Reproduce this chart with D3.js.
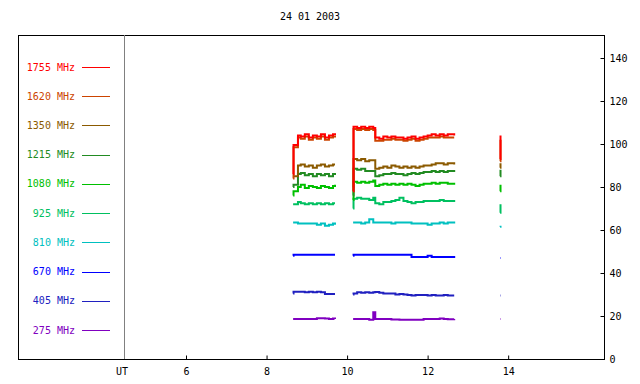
<!DOCTYPE html>
<html>
<head>
<meta charset="utf-8">
<script src="https://cdn.jsdelivr.net/npm/d3@7"></script>
<style>
  body { margin: 0; background: #fff; }
  text { font-family: "DejaVu Sans Mono", monospace; font-size: 10px; }
</style>
</head>
<body>
<div id="chart"></div>
<script>
var title = "24 01 2003";
var channels = ["1755 MHz", "1620 MHz", "1350 MHz", "1215 MHz", "1080 MHz", "925 MHz", "810 MHz", "670 MHz", "405 MHz", "275 MHz"];
var colors = ["#ff0000", "#cc4400", "#8b5a00", "#228b22", "#00c000", "#00c060", "#00c0c0", "#0000ff", "#2020c0", "#8000c0"];
var xTicks = [6, 8, 10, 12, 14];
var yTicks = [0, 20, 40, 60, 80, 100, 120, 140];

// UT hours, null = gap between observation runs
var times = [8.66, 8.67, 8.78, 8.85, 8.95, 9.05, 9.15, 9.25, 9.35, 9.45, 9.55, 9.65, 9.70, null,
  10.15, 10.16, 10.25, 10.35, 10.45, 10.55, 10.65, 10.70, 10.80, 10.90, 11.00, 11.10, 11.20, 11.30, 11.40,
  11.50, 11.60, 11.70, 11.80, 11.90, 12.00, 12.10, 12.20, 12.30, 12.40, 12.50, 12.66, null,
  13.80, 13.81];

var f1755 = [86, 99.5, 104, 103.5, 104.5, 103, 104, 103.5, 104.5, 103, 104, 104.5, 105, null,
  78, 108, 107.5, 108, 107.5, 108, 107.5, 103, 102.5, 103.5, 103, 103.5, 103, 103, 102.5,
  103, 103.5, 102.5, 103, 103.5, 104, 104.5, 104, 104.5, 104, 104.5, 104, null,
  93, 104];
var f1620 = [84, 98.5, 103, 102.5, 103.5, 102, 103, 102.5, 103.5, 102, 103, 103.5, 104, null,
  78, 107, 106.5, 107, 106.5, 107, 106.5, 101.5, 101.5, 102, 102, 102.5, 102, 102, 101.5,
  102, 102.5, 101.5, 102, 102.5, 103, 103, 103, 103.5, 103, 103, 103, null,
  92, 102];
var f1350 = [85, 85, 90, 90.5, 89.5, 90, 89, 90, 90.5, 89.5, 90, 90.5, 90.5, null,
  80, 93, 92.5, 93, 92, 92.5, 92.5, 88.5, 89, 89.5, 89, 90, 89.5, 89, 89.5,
  89, 89.5, 89, 89.5, 90, 90, 90.5, 91, 91, 90.5, 91, 90.5, null,
  89, 91];
var f1215 = [80, 81, 86, 86.5, 85.5, 86, 85, 86, 85.5, 86, 85, 86, 86.5, null,
  76, 88.5, 88, 88.5, 87.5, 87.5, 87.5, 85, 85.5, 86, 86, 86.5, 86, 86, 85.5,
  86, 86.5, 86, 86.5, 87, 87, 87.5, 87, 87.5, 87, 87.5, 87, null,
  85, 88];
var f1080 = [76, 78, 80, 81, 79.5, 80.5, 80, 79.5, 80.5, 80, 79.5, 80.5, 81, null,
  74, 82.5, 82, 82.5, 82, 82.5, 83, 80.5, 81, 81.5, 81, 81.5, 81, 81.5, 81,
  81.5, 81, 80.5, 81, 81.5, 81.5, 82, 81.5, 82, 82, 81.5, 82, null,
  78, 81];
var f925 = [72, 72, 73, 72.5, 72, 72.5, 72, 72.5, 72, 72.5, 72, 72.5, 72.5, null,
  70, 74.5, 75, 74.5, 74.5, 74, 75, 72.5, 72, 73, 73, 73.5, 74, 75, 73.5,
  73, 72.5, 73, 73, 73.5, 73.5, 73.5, 73.5, 74, 73.5, 73.5, 73, null,
  68, 72];
var f810 = [63.5, 63.5, 63, 63, 63, 63, 63, 62.5, 63, 62, 62.5, 63, 62.5, null,
  63.5, 63.5, 63.5, 63, 63.5, 65, 63.5, 63.5, 63.5, 63.5, 63.5, 63, 63.5, 63.5, 63.5,
  63.5, 63, 63, 63, 63, 62.5, 63, 63, 63.5, 63, 63.5, 63, null,
  61.5, 62];
var f670 = [48, 48.5, 48.5, 48.5, 48.5, 48.5, 48.5, 48.5, 48.5, 48.5, 48.5, 48.5, 48.5, null,
  48, 48.5, 48.5, 48.5, 48.5, 48.5, 48.5, 48.5, 48.5, 48.5, 48.5, 48.5, 48.5, 48.5, 48.5,
  48.5, 47.5, 47.5, 47.5, 47.5, 48, 47.5, 47.5, 47.5, 47.5, 47.5, 47, null,
  47, 47];
var f405 = [30.5, 31.3, 31.3, 31.3, 31, 31.3, 31, 31.3, 31, 30.2, 30.2, 30.2, 30.2, null,
  30, 30.5, 31, 30.8, 31, 30.8, 31, 31.2, 30.8, 30.5, 30.5, 30.5, 30, 30.2, 30,
  29.8, 29.5, 29.8, 29.8, 29.8, 29.5, 29.8, 29.5, 29.5, 29.8, 29.5, 29.5, null,
  29.5, 29.5];
var f275 = [18.6, 18.6, 18.6, 18.6, 18.6, 18.6, 18.6, 19, 19, 18.8, 18.6, 18.8, 18.6, null,
  18.6, 18.6, 18.6, 18.6, 18.6, 18.3, 21.8, 18.6, 18.6, 18.6, 18.6, 18.4, 18.4, 18.3, 18.3,
  18.3, 18.3, 18.3, 18.3, 18.6, 18.6, 18.6, 18.6, 18.8, 18.6, 18.5, 18.6, null,
  18.6, 18.6];

var series = [f1755, f1620, f1350, f1215, f1080, f925, f810, f670, f405, f275];

var width = 640, height = 384;
var frame = {left: 18, top: 35, right: 604, bottom: 359};
var plotLeft = 124;

var svg = d3.select("#chart").append("svg")
  .attr("width", width)
  .attr("height", height);

var x = d3.scaleLinear().domain([4.46, 16.38]).range([plotLeft, frame.right]);
var y = d3.scaleLinear().domain([0, 140]).range([frame.bottom, 58]);
var legendY = d3.scalePoint().domain(channels).range([67, 330]);

// title
svg.append("text")
  .attr("x", 310).attr("y", 20)
  .attr("text-anchor", "middle")
  .text(title);

// frame
svg.append("rect")
  .attr("x", frame.left + 0.5).attr("y", frame.top + 0.5)
  .attr("width", frame.right - frame.left).attr("height", frame.bottom - frame.top)
  .attr("fill", "none").attr("stroke", "#000");

// divider between legend and plot
svg.append("line")
  .attr("x1", plotLeft + 0.5).attr("x2", plotLeft + 0.5)
  .attr("y1", frame.top).attr("y2", frame.bottom)
  .attr("stroke", "#808080");

// axes
var xAxis = svg.append("g")
  .attr("transform", "translate(0," + (frame.bottom + 0.5) + ")")
  .call(d3.axisBottom(x).tickValues(xTicks).tickSizeInner(-4).tickSizeOuter(0).tickPadding(8));
xAxis.select(".domain").remove();

var yAxis = svg.append("g")
  .attr("transform", "translate(" + (frame.right + 0.5) + ",0)")
  .call(d3.axisRight(y).tickValues(yTicks).tickSizeInner(-4).tickSizeOuter(0).tickPadding(5));
yAxis.select(".domain").remove();

svg.selectAll(".tick text").attr("font-family", "DejaVu Sans Mono").attr("font-size", "10px");

svg.append("text")
  .attr("x", 122).attr("y", 375)
  .attr("text-anchor", "middle")
  .text("UT");

// legend
var leg = svg.append("g").selectAll("g")
  .data(channels)
  .enter().append("g");

leg.append("text")
  .attr("x", 75)
  .attr("y", function(d) { return legendY(d) + 3.5; })
  .attr("text-anchor", "end")
  .attr("fill", function(d, i) { return colors[i]; })
  .text(function(d) { return d; });

leg.append("line")
  .attr("x1", 82).attr("x2", 110)
  .attr("y1", function(d) { return Math.round(legendY(d)) + 0.5; })
  .attr("y2", function(d) { return Math.round(legendY(d)) + 0.5; })
  .attr("stroke", function(d, i) { return colors[i]; });

// data lines, lowest frequency first so 1755 ends on top
var line = d3.line()
  .defined(function(d) { return d.t != null && d.v != null; })
  .x(function(d) { return x(d.t); })
  .y(function(d) { return y(d.v); })
  .curve(d3.curveStepAfter);

var order = d3.range(series.length).reverse();
svg.append("g").selectAll("path")
  .data(order)
  .enter().append("path")
  .attr("fill", "none")
  .attr("stroke", function(i) { return colors[i]; })
  .attr("stroke-width", 2)
  .attr("d", function(i) {
    return line(times.map(function(t, k) { return {t: t, v: series[i][k]}; }));
  });
</script>
</body>
</html>
